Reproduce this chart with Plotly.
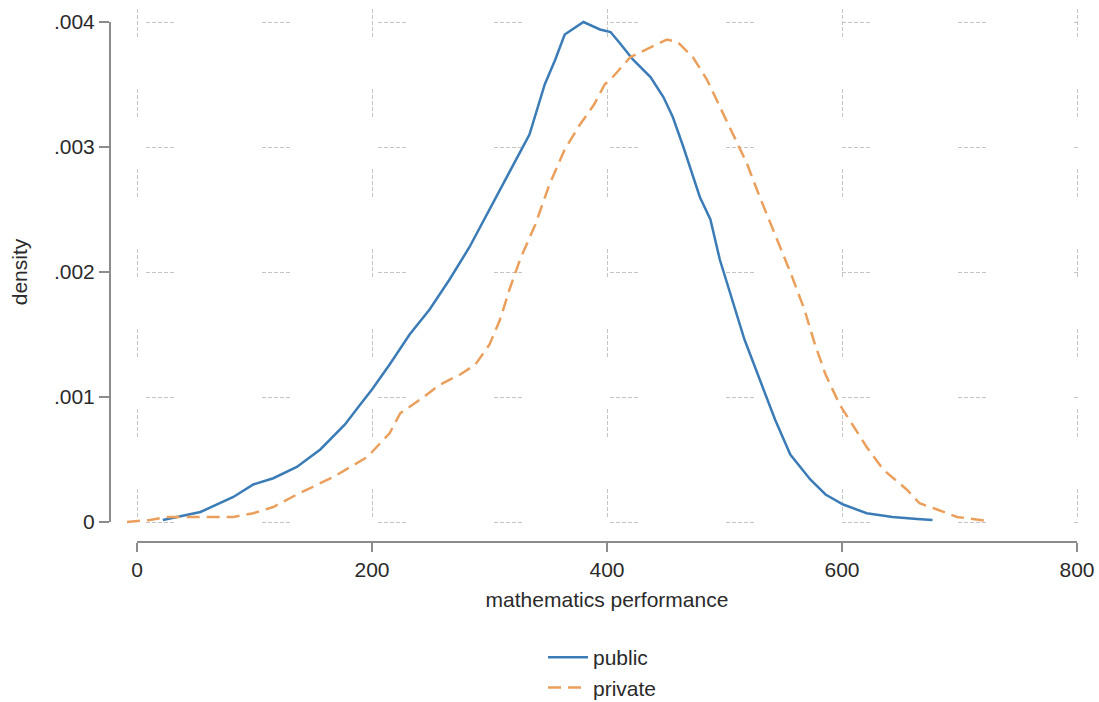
import plotly.graph_objects as go

# ---- data ----
public_x = [22, 54, 82, 99, 116, 136, 156, 177, 190, 200, 215, 232, 249, 266, 283, 300, 317,
            334, 347, 356, 364, 380, 394, 403, 411, 422, 437, 448, 456, 465, 479, 488, 496,
            509, 517, 530, 543, 556, 573, 586, 601, 621, 643, 664, 677]
public_y = [.000016, .00008, .0002, .0003, .00035, .00044, .00058, .00078, .00094, .00106,
            .00126, .0015, .0017, .00194, .0022, .0025, .0028, .0031, .0035, .0037, .0039,
            .004, .00394, .00392, .00383, .0037, .00356, .0034, .00324, .003, .0026, .00242,
            .0021, .0017, .00146, .00114, .00082, .00054, .00034, .00022, .00014, .00007,
            .00004, .000024, .000016]

private_x = [-8.5, 11, 25, 82, 99, 116, 136, 167, 196, 215, 224, 241, 258, 275, 288, 300, 309,
             317, 326, 339, 351, 364, 377, 389, 398, 403, 420, 437, 451, 460, 473, 485, 496,
             507, 519, 530, 543, 556, 568, 577, 586, 598, 621, 635, 655, 666, 681, 698, 723]
private_y = [0, .000016, .00004, .00004, .00007, .00012, .00022, .00036, .00052, .00071,
             .00087, .00098, .0011, .00118, .00126, .00142, .00162, .00186, .0021, .00238,
             .0027, .00298, .00318, .00334, .0035, .00354, .00372, .0038, .00386, .00384,
             .00372, .00354, .00332, .00311, .00287, .0026, .0023, .002, .0017, .00142,
             .00118, .00094, .0006, .00042, .00026, .00015, .0001, .00004, .00001]

x_ticks = [0, 200, 400, 600, 800]
y_ticks = [0, .001, .002, .003, .004]
y_ticktext = ["0", ".001", ".002", ".003", ".004"]

series_names = ["public", "private"]

# ---- layout geometry (pixels) ----
W, H = 1099, 702
FONT = "Liberation Sans, Arial, sans-serif"
TXT = "#2a2a2a"
AXC = "#8c8c8c"
GRIDC = "#c4c4c4"

# data-to-pixel mapping of the reference
x0_px, x800_px = 137, 1077
y0_px, y004_px = 522, 22
xs = (x800_px - x0_px) / 800.0
ys = (y0_px - y004_px) / 0.004

plot_l, plot_r = 112, 1080
plot_t, plot_b = 8, 535

xr = [(plot_l - x0_px) / xs, 800 + (plot_r - x800_px) / xs]
yr = [-(plot_b - y0_px) / ys, 0.004 + (y004_px - plot_t) / ys]

fig = go.Figure()
fig.add_trace(go.Scatter(x=public_x, y=public_y, mode="lines", name=series_names[0],
                         line=dict(color="#3b7cb7", width=2.5)))
fig.add_trace(go.Scatter(x=private_x, y=private_y, mode="lines", name=series_names[1],
                         line=dict(color="#eaa05c", width=2.5, dash="13px,7px")))
# axis-frame subplot (holds visible axis lines, ticks and labels)
fig.add_trace(go.Scatter(x=[], y=[], xaxis="x2", yaxis="y2", showlegend=False,
                         hoverinfo="skip"))

dot = "4px,2px,4px,2px,4px,2px,4px,2px,4px"
fig.update_layout(
    width=W, height=H,
    margin=dict(l=0, r=0, t=0, b=0, autoexpand=False),
    paper_bgcolor="white",
    plot_bgcolor="rgba(0,0,0,0)",
    font=dict(family=FONT, size=21, color=TXT),
    xaxis=dict(domain=[plot_l / W, plot_r / W], range=xr, tickvals=x_ticks,
               showticklabels=False, ticks="", showline=False, zeroline=False,
               automargin=False,
               showgrid=True, gridcolor=GRIDC, gridwidth=1,
               griddash="0px,1px," + dot + ",51px"),
    yaxis=dict(domain=[(H - plot_b) / H, (H - plot_t) / H], range=yr, tickvals=y_ticks,
               showticklabels=False, ticks="", showline=False, zeroline=False,
               automargin=False,
               showgrid=True, gridcolor=GRIDC, gridwidth=1,
               griddash="0px,34px," + dot + ",54px"),
    xaxis2=dict(domain=[x0_px / W, x800_px / W], range=[0, 800], anchor="free",
                position=(H - 542) / H, tickvals=x_ticks, automargin=False,
                ticks="outside", ticklen=9, tickwidth=2, tickcolor=AXC,
                showline=True, linecolor=AXC, linewidth=2, showgrid=False, zeroline=False,
                tickfont=dict(size=21, color=TXT),
                title=dict(text="mathematics performance", standoff=11,
                           font=dict(size=21, color=TXT))),
    yaxis2=dict(domain=[(H - y0_px) / H, (H - y004_px) / H], range=[0, 0.004],
                anchor="free", position=110 / W, tickvals=y_ticks, ticktext=y_ticktext,
                automargin=False,
                ticks="outside", ticklen=10, tickwidth=2, tickcolor=AXC,
                showline=True, linecolor=AXC, linewidth=2, showgrid=False, zeroline=False,
                tickfont=dict(size=21, color=TXT),
                title=dict(text="density", standoff=20, font=dict(size=21, color=TXT))),
    legend=dict(x=543 / W, y=(H - 637) / H, xanchor="left", yanchor="top",
                font=dict(size=21, color=TXT), bgcolor="rgba(0,0,0,0)",
                tracegroupgap=0, itemwidth=40),
    showlegend=True,
)

fig.write_html("out.html")
